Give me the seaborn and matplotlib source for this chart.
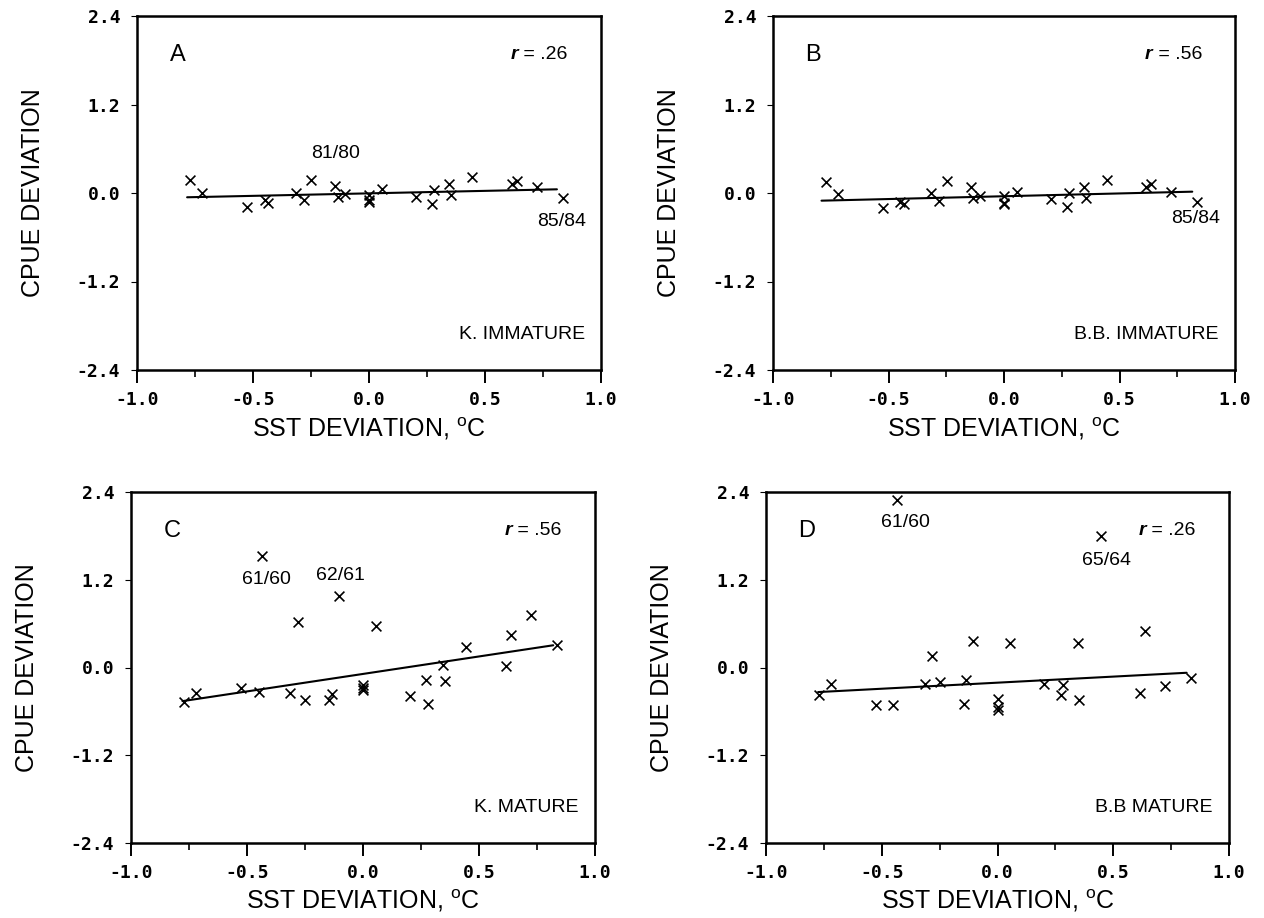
import numpy as np
import pandas as pd
import matplotlib
matplotlib.use("Agg")
import matplotlib.pyplot as plt
import seaborn as sns
from matplotlib.ticker import FixedLocator

# ---------------- data ----------------
sst = [-0.77, -0.72, -0.525, -0.45, -0.435, -0.315, -0.282, -0.248, -0.145, -0.135,
       -0.105, 0.0, 0.0, 0.0, 0.055, 0.203, 0.273, 0.282, 0.346, 0.353,
       0.445, 0.616, 0.636, 0.724, 0.835]

cpue_k_immature = [0.176, -0.005, -0.186, -0.095, -0.14, 0.005, -0.095, 0.176, 0.095, -0.05,
                   -0.014, -0.027, -0.118, -0.10, 0.05, -0.05, -0.153, 0.04, 0.12, -0.03,
                   0.22, 0.12, 0.167, 0.086, -0.07]
cpue_bb_immature = [0.153, -0.018, -0.2, -0.118, -0.15, -0.005, -0.104, 0.163, 0.086, -0.072,
                    -0.04, -0.04, -0.15, -0.13, 0.018, -0.086, -0.194, -0.005, 0.086, -0.072,
                    0.17, 0.077, 0.118, 0.01, -0.118]
cpue_k_mature = [-0.473, -0.355, -0.277, -0.332, 1.528, -0.345, 0.618, -0.446, -0.45, -0.36,
                 0.98, -0.246, -0.31, -0.28, 0.573, -0.39, -0.177, -0.505, 0.03, -0.186,
                 0.282, 0.018, 0.44, 0.723, 0.304]
cpue_bb_mature = [-0.381, -0.222, -0.508, -0.508, 2.295, -0.222, 0.154, -0.2, -0.494, -0.177,
                  0.367, -0.426, -0.54, -0.585, 0.331, -0.231, -0.381, -0.245, 0.331, -0.449,
                  1.796, -0.345, 0.503, -0.254, -0.145]

# regression line end points
fit_x_a = [-0.784, 0.81]
fit_y_a = [-0.058, 0.05]
fit_x_b = [-0.79, 0.815]
fit_y_b = [-0.104, 0.018]
fit_x_c = [-0.778, 0.82]
fit_y_c = [-0.46, 0.304]
fit_x_d = [-0.775, 0.817]
fit_y_d = [-0.336, -0.072]

panel_letters = ["A", "B", "C", "D"]
r_values = [".26", ".56", ".56", ".26"]
group_names = ["K. IMMATURE", "B.B. IMMATURE", "K. MATURE", "B.B MATURE"]
year_labels = [
    [("81/80", -0.145, 0.54), ("85/84", 0.829, -0.39)],
    [("85/84", 0.83, -0.35)],
    [("61/60", -0.416, 1.21), ("62/61", -0.096, 1.255)],
    [("61/60", -0.397, 1.98), ("65/64", 0.472, 1.47)],
]

x_ticks = [-1.0, -0.5, 0.0, 0.5, 1.0]
x_minor = [-0.75, -0.25, 0.25, 0.75]
y_ticks = [-2.4, -1.2, 0.0, 1.2, 2.4]

# ---------------- style ----------------
sns.set_theme(style="white")
plt.rcParams['font.family'] = ['Liberation Sans', 'DejaVu Sans']
plt.rcParams['axes.unicode_minus'] = False
plt.rcParams['mathtext.fontset'] = 'custom'
plt.rcParams['mathtext.rm'] = 'Liberation Sans'

fig = plt.figure(figsize=(12.64, 9.18), dpi=100)
W, H = 1264.0, 918.0
boxes = [(137, 16, 601, 370), (773, 16, 1235, 370),
         (131, 492, 595, 843), (766, 492, 1229, 843)]

series = [cpue_k_immature, cpue_bb_immature, cpue_k_mature, cpue_bb_mature]
fits = [(fit_x_a, fit_y_a), (fit_x_b, fit_y_b), (fit_x_c, fit_y_c), (fit_x_d, fit_y_d)]

for i, (l, t, r, b) in enumerate(boxes):
    ax = fig.add_axes([l / W, 1 - b / H, (r - l) / W, (b - t) / H])
    df = pd.DataFrame({"SST": sst, "CPUE": series[i]})
    sns.scatterplot(data=df, x="SST", y="CPUE", marker="x", color="black",
                    s=50, linewidth=1.2, ax=ax, legend=False, zorder=3)
    fdf = pd.DataFrame({"x": fits[i][0], "y": fits[i][1]})
    sns.lineplot(data=fdf, x="x", y="y", color="black", linewidth=1.5,
                 ax=ax, sort=False, legend=False)

    ax.set_xlim(-1.0, 1.0)
    ax.set_ylim(-2.4, 2.4)
    ax.set_xticks(x_ticks)
    ax.xaxis.set_minor_locator(FixedLocator(x_minor))
    ax.set_yticks(y_ticks)
    ax.set_xticklabels([f"{v:.1f}" for v in x_ticks])
    ax.set_yticklabels([f"{v:.1f}" for v in y_ticks])

    for sp in ax.spines.values():
        sp.set_color("black")
        sp.set_linewidth(1.8)
        sp.set_visible(True)

    ax.tick_params(axis="x", which="major", direction="out", length=9, width=1.4,
                   bottom=True, color="black", pad=6, labelsize=13,
                   labelcolor="black")
    ax.tick_params(axis="x", which="minor", direction="out", length=5, width=1.2,
                   bottom=True, color="black")
    ax.tick_params(axis="y", which="major", direction="out", length=4, width=0.8,
                   left=True, color="black", pad=8, labelsize=13, labelcolor="black")
    for lab in ax.get_xticklabels() + ax.get_yticklabels():
        lab.set_fontfamily("DejaVu Sans Mono")
        lab.set_fontweight("bold")

    ax.set_xlabel(r"SST DEVIATION, $^{\mathrm{o}}$C", fontsize=18, color="black")
    ax.set_ylabel("CPUE DEVIATION", fontsize=18, color="black")
    ax.xaxis.set_label_coords(0.5, -0.165)
    ax.xaxis.label.set_va("center")
    ax.yaxis.set_label_coords(-0.225, 0.5)
    ax.yaxis.label.set_va("center")

    # panel letter
    ax.text(-0.86, 1.87, panel_letters[i], fontsize=17, ha="left", va="center",
            color="black")
    # correlation
    tr = ax.text(0.61, 1.88, "r", fontsize=14, fontstyle="italic", fontweight="bold",
                 ha="left", va="center", color="black")
    ax.annotate(" = " + r_values[i], xy=(1.0, 0.5), xycoords=tr, fontsize=14,
                ha="left", va="center", color="black")
    # group name
    ax.text(0.93, -1.92, group_names[i], fontsize=14, ha="right", va="center",
            color="black")
    # year labels
    for txt, xx, yy in year_labels[i]:
        ax.text(xx, yy, txt, fontsize=14, ha="center", va="center", color="black")

fig.savefig("out.png", dpi=100, facecolor="white")
